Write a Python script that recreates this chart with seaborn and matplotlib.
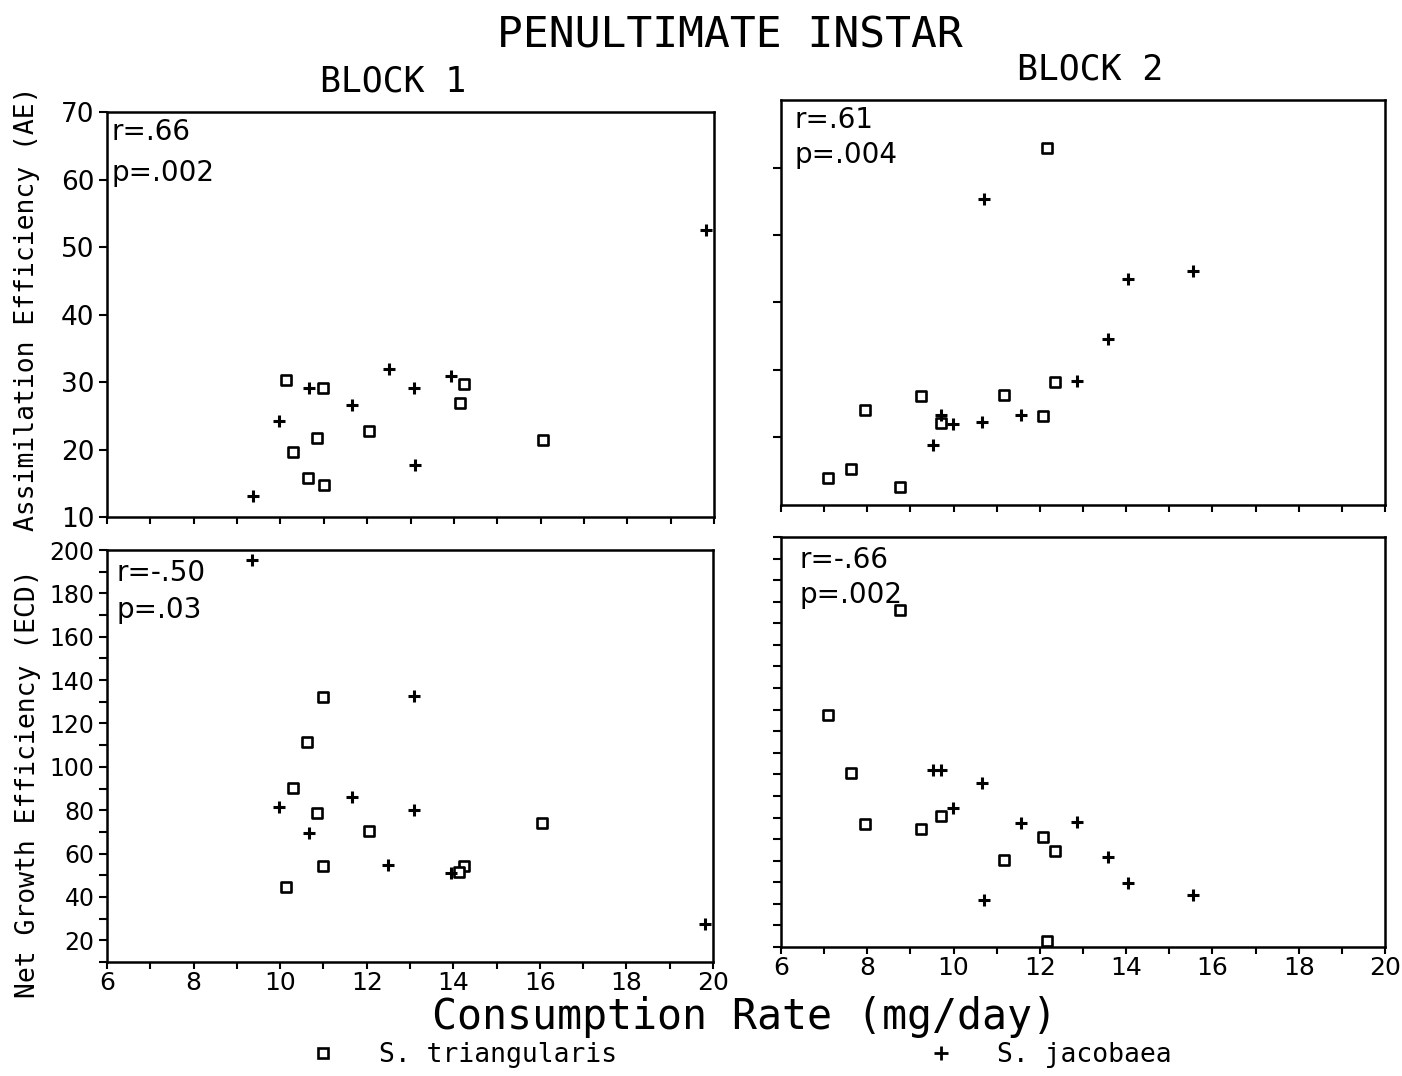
import numpy as np
import pandas as pd
import matplotlib
matplotlib.use("Agg")
import matplotlib.pyplot as plt
from matplotlib.lines import Line2D
import seaborn as sns

# ---------------- data ----------------
# Block 1, S. triangularis
b1_tri_x   = [10.13, 10.98, 10.84, 10.30, 10.63, 11.00, 12.05, 14.24, 14.14, 16.06]
b1_tri_ae  = [30.35, 29.15, 21.7, 19.65, 15.75, 14.75, 22.7, 29.75, 26.95, 21.35]
b1_tri_ecd = [44.6, 132.3, 78.7, 90.2, 111.6, 54.3, 70.5, 54.1, 51.5, 74.2]
# Block 1, S. jacobaea
b1_jac_x   = [9.36, 9.97, 10.66, 11.66, 12.50, 13.09, 13.10, 13.94, 19.82]
b1_jac_ae  = [13.05, 24.15, 29.15, 26.6, 31.9, 29.15, 17.65, 30.95, 52.5]
b1_jac_ecd = [195.4, 81.4, 69.4, 86.3, 54.7, 80.2, 132.6, 50.9, 27.7]
# Block 2, S. triangularis
b2_tri_x   = [7.10, 7.62, 7.95, 8.75, 9.25, 9.71, 11.18, 12.07, 12.34, 12.16]
b2_tri_ae  = [14.05, 15.4, 24.0, 12.7, 26.2, 22.1, 26.3, 23.2, 28.2, 62.9]
b2_tri_ecd = [117.6, 90.6, 67.1, 166.3, 64.7, 70.5, 50.3, 61.2, 54.5, 12.8]
# Block 2, S. jacobaea
b2_jac_x   = [9.52, 9.70, 9.99, 10.70, 10.67, 11.56, 12.87, 13.59, 14.04, 15.56]
b2_jac_ae  = [18.9, 23.3, 22.0, 55.4, 22.3, 23.4, 28.3, 34.6, 43.5, 44.7]
b2_jac_ecd = [92.2, 91.9, 74.2, 32.0, 86.0, 67.4, 67.8, 51.9, 39.5, 34.3]

species = ["S. triangularis", "S. jacobaea"]
stats_text = {
    ("AE", 1): ["r=.66", "p=.002"],
    ("AE", 2): ["r=.61", "p=.004"],
    ("ECD", 1): ["r=-.50", "p=.03"],
    ("ECD", 2): ["r=-.66", "p=.002"],
}
x_ticklabels = ["6", "8", "10", "12", "14", "16", "18", "20"]

# ---------------- build tidy frame ----------------
rows = []
for block, tri_x, tri_ae, tri_ecd, jac_x, jac_ae, jac_ecd in [
    (1, b1_tri_x, b1_tri_ae, b1_tri_ecd, b1_jac_x, b1_jac_ae, b1_jac_ecd),
    (2, b2_tri_x, b2_tri_ae, b2_tri_ecd, b2_jac_x, b2_jac_ae, b2_jac_ecd),
]:
    for x, ae, ecd in zip(tri_x, tri_ae, tri_ecd):
        rows.append(dict(block=block, species=species[0], rate=x, AE=ae, ECD=ecd))
    for x, ae, ecd in zip(jac_x, jac_ae, jac_ecd):
        rows.append(dict(block=block, species=species[1], rate=x, AE=ae, ECD=ecd))
df = pd.DataFrame(rows)

# ---------------- style ----------------
sns.set_theme(style="ticks")
plt.rcParams.update({
    "font.family": ["DejaVu Sans"],
    "text.color": "black",
    "axes.labelcolor": "black",
    "axes.linewidth": 1.8,
    "axes.edgecolor": "black",
    "xtick.major.width": 1.5,
    "ytick.major.width": 1.5,
    "xtick.major.size": 5,
    "ytick.major.size": 6,
    "xtick.color": "black",
    "ytick.color": "black",
})
MONO = "DejaVu Sans Mono"

W, H = 1402, 1076
fig = plt.figure(figsize=(W / 100, H / 100), dpi=100)

def frac(left, right, top, bottom):
    return [left / W, 1 - bottom / H, (right - left) / W, (bottom - top) / H]

axes = {
    ("AE", 1): fig.add_axes(frac(107, 714, 112, 517)),
    ("AE", 2): fig.add_axes(frac(781, 1385, 100, 505)),
    ("ECD", 1): fig.add_axes(frac(107, 713, 550, 962)),
    ("ECD", 2): fig.add_axes(frac(781, 1385, 537, 947)),
}
stat_pos = {
    ("AE", 1): (0.008, 0.951, 0.849),
    ("AE", 2): (0.023, 0.951, 0.864),
    ("ECD", 1): (0.016, 0.944, 0.854),
    ("ECD", 2): (0.031, 0.944, 0.859),
}

for (var, block), ax in axes.items():
    sub = df[df.block == block]
    tri = sub[sub.species == species[0]]
    jac = sub[sub.species == species[1]]
    sns.scatterplot(data=tri, x="rate", y=var, ax=ax, marker="s", s=50,
                    color="white", edgecolor="black", linewidth=1.9, zorder=3,
                    clip_on=False)
    sns.scatterplot(data=jac, x="rate", y=var, ax=ax, marker="+", s=85,
                    color="black", linewidth=2.2, zorder=3, clip_on=False)
    ax.set_xlim(6, 20)
    ax.set_xlabel("")
    ax.set_ylabel("")
    for s in ["top", "right", "left", "bottom"]:
        ax.spines[s].set_visible(True)
    if var == "AE":
        ax.set_ylim(10, 70)
        ax.set_xticks(np.arange(6, 21, 1))
        ax.set_xticklabels([])
        if block == 1:
            ax.set_yticks(np.arange(10, 71, 10))
            ax.set_yticklabels([str(v) for v in range(10, 71, 10)], fontsize=19)
        else:
            ax.set_yticks(np.arange(20, 61, 10))
            ax.set_yticklabels([])
    else:
        ax.set_ylim(10, 200)
        ax.set_xticks(np.arange(6, 21, 1))
        ax.set_xticklabels([x_ticklabels[i // 2] if i % 2 == 0 else "" for i in range(15)],
                           fontsize=18)
        ax.set_yticks(np.arange(10, 201, 10))
        if block == 1:
            ax.set_yticklabels([str(v) if v % 20 == 0 else "" for v in range(10, 201, 10)],
                               fontsize=17)
        else:
            ax.set_yticklabels([])
    ax.tick_params(axis="y", direction="out", pad=3)
    ax.tick_params(axis="x", direction="out", pad=1.5)
    xs, yr, yp = stat_pos[(var, block)]
    r_txt, p_txt = stats_text[(var, block)]
    ax.text(xs, yr, r_txt, transform=ax.transAxes, fontsize=20, va="center", ha="left")
    ax.text(xs, yp, p_txt, transform=ax.transAxes, fontsize=20, va="center", ha="left")

# titles and labels
fig.text(730 / W, 1 - 35 / H, "PENULTIMATE INSTAR", family=MONO, fontsize=31,
         ha="center", va="center")
fig.text(393 / W, 1 - 81 / H, "BLOCK 1", family=MONO, fontsize=25, ha="center", va="center")
fig.text(1090 / W, 1 - 69 / H, "BLOCK 2", family=MONO, fontsize=25, ha="center", va="center")
fig.text(27 / W, 1 - 309 / H, "Assimilation Efficiency (AE)", family=MONO, fontsize=19,
         rotation=90, ha="center", va="center")
fig.text(28 / W, 1 - 784 / H, "Net Growth Efficiency (ECD)", family=MONO, fontsize=19,
         rotation=90, ha="center", va="center")
fig.text(745 / W, 1 - 1017 / H, "Consumption Rate (mg/day)", family=MONO, fontsize=30,
         ha="center", va="center")

handles = [
    Line2D([], [], marker="s", linestyle="none", markersize=7.2, markerfacecolor="white",
           markeredgecolor="black", markeredgewidth=1.9),
    Line2D([], [], marker="+", linestyle="none", markersize=10, color="black",
           markeredgewidth=2.0),
]
fig.legend(handles, species, loc="center left", bbox_to_anchor=(310 / W, 1 - 1055 / H),
           ncol=2, frameon=False, borderpad=0, borderaxespad=0, handlelength=1.0,
           handletextpad=1.6, columnspacing=11.8, prop={"family": MONO, "size": 19})

fig.savefig("out.png", dpi=100, facecolor="white")
